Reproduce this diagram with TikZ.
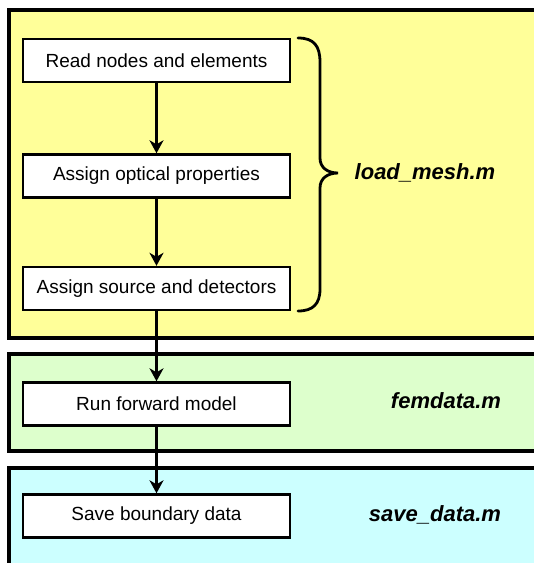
\documentclass[tikz,border=0pt]{standalone}
\usepackage{fontspec}
\setmainfont{Liberation Sans}
\usetikzlibrary{arrows.meta}
\definecolor{panelyellow}{HTML}{FFFF99}
\definecolor{panelgreen}{HTML}{DDFFCC}
\definecolor{panelcyan}{HTML}{CCFFFF}
\tikzset{
  panel/.style={draw=black, line width=3.2pt},
  stepbox/.style={draw=black, fill=white, line width=2.4pt, minimum width=267pt, minimum height=43pt, inner sep=0pt, font=\fontsize{19}{22}\selectfont},
  flow/.style={line width=3pt, -{Stealth[length=13pt,width=14pt,inset=4pt]}},
  filelabel/.style={font=\fontsize{22}{26}\selectfont\bfseries\itshape, inner sep=0pt},
  bracepath/.style={line width=2.8pt, line cap=round}
}
\begin{document}
\begin{tikzpicture}[x=1pt,y=-1pt]
\useasboundingbox (0,0) rectangle (534,563);
\clip (0,0) rectangle (534,563);
\fill[white] (0,0) rectangle (534,563);
% panels
\draw[panel, fill=panelyellow] (9,10) rectangle (560,338);
\draw[panel, fill=panelgreen] (9,354) rectangle (560,451);
\draw[panel, fill=panelcyan] (9,468) rectangle (560,590);
% boxes
\node[stepbox] (read) at (156.5,60.5) {Read nodes and elements};
\node[stepbox] (optical) at (156.5,176) {Assign optical properties};
\node[stepbox] (source) at (156.5,288.5) {Assign source and detectors};
\node[stepbox] (forward) at (156.5,404) {Run forward model};
\node[stepbox] (save) at (156.5,516) {Save boundary data};
% arrows
\draw[flow] (read.south) -- (optical.north);
\draw[flow] (optical.south) -- (source.north);
\draw[flow] (source.south) -- (forward.north);
\draw[flow] (forward.south) -- (save.north);
% brace
\coordinate (bracetop) at (298,38);
\coordinate (bracetip) at (338,173);
\coordinate (bracebot) at (298,311);
\draw[bracepath] (bracetop) .. controls (314,38) and (320,46) .. (320,62) -- (320,158)
  .. controls (320,168) and (328,173) .. (bracetip)
  .. controls (328,173) and (320,178) .. (320,188) -- (320,289)
  .. controls (320,304) and (313,311) .. (bracebot);
% labels
\node[filelabel] (loadlbl) at (425,173) {load\_mesh.m};
\node[filelabel] (femlbl) at (446,401) {femdata.m};
\node[filelabel] (savelbl) at (435,515) {save\_data.m};
\end{tikzpicture}
\end{document}
